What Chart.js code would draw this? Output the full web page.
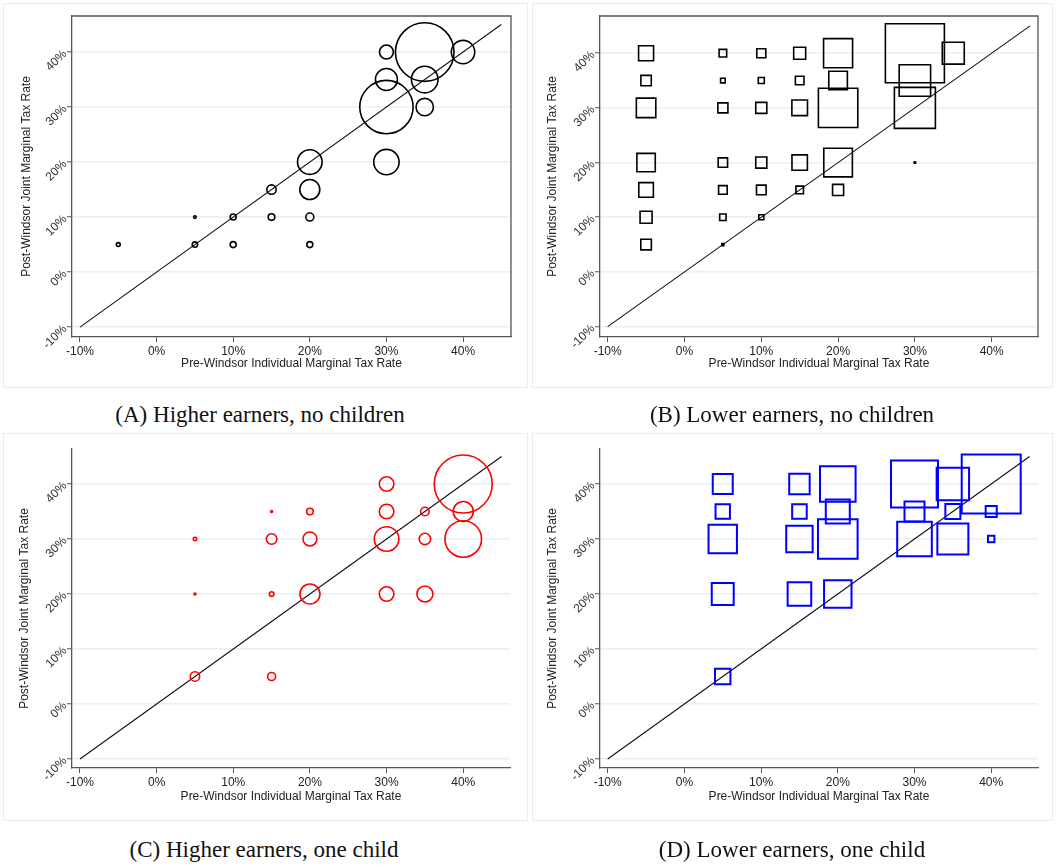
<!DOCTYPE html>
<html lang="en">
<head>
  <meta charset="UTF-8">
  <title>Marginal tax rates before and after Windsor</title>
  <script src="https://cdn.jsdelivr.net/npm/chart.js"></script>
</head>
<style>
  body {
    margin: 0;
    width: 1061px;
    height: 867px;
    position: relative;
    overflow: hidden;
    background: #fff;
  }

  .frame {
    position: absolute;
    border: 1px solid #e6eef0;
    box-sizing: border-box;
  }

  .wrap {
    position: absolute;
    width: 531px;
    height: 390px;
  }

  .caption {
    position: absolute;
    width: 530px;
    height: 28px;
    line-height: 28px;
    text-align: center;
    font-family: 'Liberation Serif', 'Times New Roman', serif;
    font-size: 23px;
    color: #111;
  }
</style>

<body>
  <div class="frame" style="left:3px;top:3px;width:525px;height:385px"></div>
  <div class="frame" style="left:532px;top:3px;width:521px;height:385px"></div>
  <div class="frame" style="left:3px;top:433px;width:525px;height:388px"></div>
  <div class="frame" style="left:532px;top:433px;width:521px;height:388px"></div>

  <div class="wrap" style="left:0;top:0"><canvas id="pA" width="531" height="390"></canvas></div>
  <div class="wrap" style="left:530px;top:0"><canvas id="pB" width="531" height="390"></canvas></div>
  <div class="wrap" style="left:0;top:430px"><canvas id="pC" width="531" height="390"></canvas></div>
  <div class="wrap" style="left:530px;top:430px"><canvas id="pD" width="531" height="390"></canvas></div>

  <div class="caption" id="capA" style="left:-5px;top:401px"></div>
  <div class="caption" id="capB" style="left:527px;top:401px"></div>
  <div class="caption" id="capC" style="left:-1px;top:836px"></div>
  <div class="caption" id="capD" style="left:527px;top:836px"></div>

<script>
  // tick values and the 45 degree line
  const tickVals = [-10, 0, 10, 20, 30, 40];
  const diagX = [-10, 45];
  const diagY = [-10, 45];

  const captions = [
    '(A) Higher earners, no children',
    '(B) Lower earners, no children',
    '(C) Higher earners, one child',
    '(D) Lower earners, one child'
  ];
  const xTitle = 'Pre-Windsor Individual Marginal Tax Rate';
  const yTitle = 'Post-Windsor Joint Marginal Tax Rate';

  // (A) higher earners, no children: pre rate, post rate, weight
  const aX = [-5, 5, 5, 10, 10, 15, 15, 20, 20, 20, 20, 30, 30, 30, 30, 35, 35, 35, 40];
  const aY = [5, 10, 5, 10, 5, 15, 10, 20, 15, 10, 5, 40, 35, 30, 20, 40, 35, 30, 40];
  const aW = [0.44, 0.19, 0.81, 1.0, 1.0, 2.45, 1.21, 16.8, 11.1, 1.78, 1.0, 5.4, 13.4, 79, 17.9, 95.4, 19.7, 8.4, 15.2];

  // (B) lower earners, no children
  const bX = [-5, -5, -5, -5, -5, -5, -5, 5, 5, 5, 5, 5, 5, 5, 10, 10, 10, 10, 10, 10, 15, 15, 15, 15, 15, 20, 20, 20, 20, 20, 30, 30, 30, 30, 35];
  const bY = [40, 35, 30, 20, 15, 10, 5, 40, 35, 30, 20, 15, 10, 5, 40, 35, 30, 20, 15, 10, 40, 35, 30, 20, 15, 40, 35, 30, 20, 15, 40, 35, 30, 20, 40];
  const bW = [6.25, 3.0, 10.5, 9.4, 5.9, 4.0, 3.1, 1.6, 0.59, 2.8, 2.45, 2.05, 1.14, 0.11, 2.25, 1.0, 3.4, 3.4, 2.56, 0.69, 4.0, 2.05, 6.76, 6.6, 1.6, 23.4, 9.6, 43.1, 22.7, 3.4, 96.7, 27.4, 46.7, 0.05, 13.4];

  // (C) higher earners, one child
  const cX = [5, 5, 5, 15, 15, 15, 15, 20, 20, 20, 30, 30, 30, 30, 35, 35, 35, 40, 40, 40];
  const cY = [30, 20, 5, 35, 30, 20, 5, 35, 30, 20, 40, 35, 30, 20, 35, 30, 20, 40, 35, 30];
  const cW = [0.32, 0.11, 2.45, 0.11, 3.1, 0.59, 1.78, 1.21, 5.4, 11.1, 5.9, 5.9, 16.8, 5.9, 2.05, 3.6, 7.1, 93.4, 11.1, 37.2];

  // (D) lower earners, one child
  const dX = [5, 5, 5, 5, 5, 15, 15, 15, 15, 20, 20, 20, 20, 30, 30, 30, 35, 35, 35, 40, 40, 40];
  const dY = [40, 35, 30, 20, 5, 40, 35, 30, 20, 40, 35, 30, 20, 40, 35, 30, 40, 35, 30, 40, 35, 30];
  const dW = [11.1, 5.76, 22.4, 13.4, 6.6, 11.6, 5.9, 19.4, 15.5, 35.2, 16, 43.6, 20.9, 61.4, 11.1, 33.3, 29.2, 6.25, 26.7, 96.7, 3.4, 1.14];

  const SIZE = 3; // px per sqrt(weight)

  const panels = [
    { id: 'pA', cap: 'capA', xs: aX, ys: aY, ws: aW, shape: 'circle', color: '#000', lw: 1.6, box: true,
      area: [72, 16, 511, 337], xr: [-11.04, 46.26], yr: [-11.8, 46.55], yt: 27, xt: 364 },
    { id: 'pB', cap: 'capB', xs: bX, ys: bY, ws: bW, shape: 'rect', color: '#000', lw: 1.6, box: true,
      area: [70, 16, 508, 337], xr: [-11.0, 46.03], yr: [-11.9, 46.8], yt: 23, xt: 364 },
    { id: 'pC', cap: 'capC', xs: cX, ys: cY, ws: cW, shape: 'circle', color: '#f00', lw: 1.6, box: false,
      area: [72, 19, 510, 338], xr: [-11.04, 46.1], yr: [-11.64, 46.36], yt: 25, xt: 367 },
    { id: 'pD', cap: 'capD', xs: dX, ys: dY, ws: dW, shape: 'rect', color: '#00f', lw: 2, box: false,
      area: [70, 19, 508, 338], xr: [-11.0, 46.1], yr: [-11.64, 46.36], yt: 23, xt: 367 }
  ];

  // top and right sides of the plot box (panels A and B)
  const boxPlugin = {
    id: 'box',
    afterDatasetsDraw(chart, args, opts) {
      if (!opts.on) return;
      const { ctx, chartArea: a } = chart;
      ctx.save();
      ctx.strokeStyle = '#555';
      ctx.lineWidth = 1.3;
      ctx.beginPath();
      ctx.moveTo(a.left, a.top);
      ctx.lineTo(a.right, a.top);
      ctx.lineTo(a.right, a.bottom);
      ctx.stroke();
      ctx.restore();
    }
  };

  const setTicks = scale => { scale.ticks = tickVals.map(v => ({ value: v })); };
  const pct = v => v + '%';
  const noPad = s => { s.paddingLeft = 0; s.paddingRight = 0; s.paddingTop = 0; s.paddingBottom = 0; };

  panels.forEach((p, k) => {
    document.getElementById(p.cap).textContent = captions[k];
    const H = 390, W = 531;
    const [L, T, R, B] = p.area;
    const rad = w => p.shape === 'rect' ? SIZE * Math.sqrt(w) * Math.SQRT2 : SIZE * Math.sqrt(w);

    new Chart(document.getElementById(p.id), {
      type: 'bubble',
      data: {
        datasets: [{
          data: p.xs.map((x, i) => ({ x: x, y: p.ys[i], r: rad(p.ws[i]) })),
          backgroundColor: 'rgba(0,0,0,0)',
          borderColor: p.color,
          borderWidth: p.lw,
          pointStyle: p.shape,
          clip: false
        }, {
          type: 'line',
          data: diagX.map((x, i) => ({ x: x, y: diagY[i] })),
          borderColor: '#111',
          borderWidth: 1.1,
          pointRadius: 0,
          fill: false
        }]
      },
      options: {
        responsive: false,
        animation: false,
        layout: { autoPadding: false, padding: { left: 0, top: T, right: W - R, bottom: 0 } },
        plugins: { legend: { display: false }, tooltip: { enabled: false }, box: { on: p.box } },
        scales: {
          x: {
            type: 'linear',
            min: p.xr[0],
            max: p.xr[1],
            afterBuildTicks: setTicks,
            afterFit: s => { s.height = H - B; noPad(s); },
            border: { color: '#555', width: 1.3 },
            grid: { drawOnChartArea: false, drawTicks: true, tickLength: 5, tickColor: '#555', tickWidth: 1 },
            ticks: { callback: pct, autoSkip: false, padding: 2, maxRotation: 0, color: '#222',
                     font: { family: "'Liberation Sans', Arial, sans-serif", size: 12 } },
            title: { display: true, text: xTitle, color: '#222', padding: { top: 0, bottom: H - 7.2 - p.xt },
                     font: { family: "'Liberation Sans', Arial, sans-serif", size: 12 } }
          },
          y: {
            type: 'linear',
            min: p.yr[0],
            max: p.yr[1],
            afterBuildTicks: setTicks,
            afterFit: s => { s.width = L; noPad(s); },
            border: { color: '#555', width: 1.3 },
            grid: { color: '#e8f0f1', lineWidth: 1.5, drawTicks: true, tickLength: 5, tickColor: '#555', tickWidth: 1 },
            ticks: { callback: pct, autoSkip: false, padding: 2, minRotation: 45, maxRotation: 45, color: '#333',
                     font: { family: "'Liberation Sans', Arial, sans-serif", size: 12 } },
            title: { display: true, text: yTitle, color: '#222', padding: { top: p.yt - 7.2, bottom: 0 },
                     font: { family: "'Liberation Sans', Arial, sans-serif", size: 12 } }
          }
        }
      },
      plugins: [boxPlugin]
    });
  });
</script>
</body>
</html>
